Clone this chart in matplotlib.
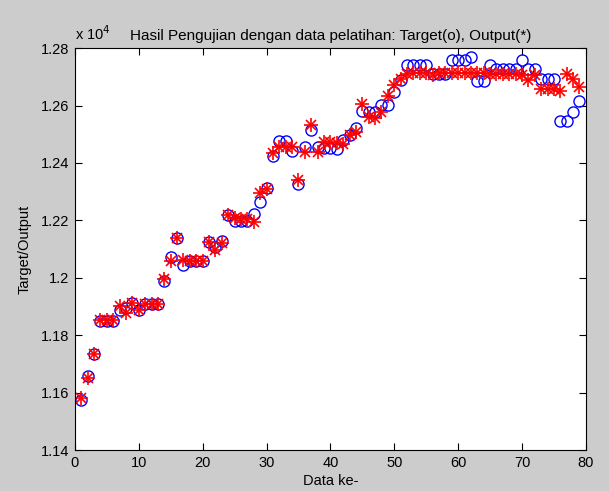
import matplotlib
matplotlib.use("Agg")
import matplotlib.pyplot as plt
from matplotlib.ticker import FuncFormatter, MultipleLocator

plt.rcParams['font.family'] = ['Liberation Sans', 'DejaVu Sans']

data_index = list(range(1, 80))
target = [
    1.1575, 1.1658, 1.1733, 1.1851, 1.1851, 1.1851, 1.1887, 1.1893, 1.1912, 1.1886,
    1.1907, 1.1907, 1.1907, 1.1988, 1.2074, 1.2138, 1.2043, 1.2059, 1.2059, 1.2059,
    1.2126, 1.2106, 1.2129, 1.2219, 1.2198, 1.2198, 1.2198, 1.2221, 1.2263, 1.2314,
    1.2424, 1.2476, 1.2476, 1.2441, 1.2325, 1.2456, 1.2514, 1.2456, 1.2453, 1.2453,
    1.2450, 1.2480, 1.2497, 1.2520, 1.2580, 1.2578, 1.2578, 1.2603, 1.2603, 1.2647,
    1.2688, 1.2742, 1.2742, 1.2742, 1.2742, 1.2711, 1.2711, 1.2711, 1.2757, 1.2757,
    1.2757, 1.2769, 1.2684, 1.2684, 1.2740, 1.2726, 1.2726, 1.2726, 1.2726, 1.2757,
    1.2726, 1.2726, 1.2693, 1.2693, 1.2693, 1.2545, 1.2545, 1.2578, 1.2615,
]
output = [
    1.1582, 1.1652, 1.1733, 1.1853, 1.1853, 1.1853, 1.1901, 1.1878, 1.1912, 1.1889,
    1.1907, 1.1907, 1.1907, 1.1996, 1.2057, 1.2137, 1.2061, 1.2059, 1.2059, 1.2059,
    1.2126, 1.2098, 1.2121, 1.2219, 1.2207, 1.2205, 1.2205, 1.2196, 1.2294, 1.2308,
    1.2435, 1.2456, 1.2457, 1.2456, 1.2341, 1.2439, 1.2532, 1.2437, 1.2474, 1.2474,
    1.2468, 1.2465, 1.2497, 1.2508, 1.2607, 1.2560, 1.2557, 1.2578, 1.2632, 1.2673,
    1.2693, 1.2711, 1.2712, 1.2712, 1.2712, 1.2707, 1.2712, 1.2712, 1.2712, 1.2712,
    1.2712, 1.2714, 1.2712, 1.2712, 1.2711, 1.2711, 1.2711, 1.2711, 1.2711, 1.2705,
    1.2690, 1.2705, 1.2659, 1.2659, 1.2657, 1.2652, 1.2710, 1.2691, 1.2665,
]
scale = 1e4
target_vals = [v * scale for v in target]
output_vals = [v * scale for v in output]

title = "Hasil Pengujian dengan data pelatihan: Target(o), Output(*)"
xlabel = "Data ke-"
ylabel = "Target/Output"


def fmt(v, p):
    s = f"{v / scale:.2f}"
    if s.endswith("0"):
        s = s.rstrip("0").rstrip(".")
    return s


fig = plt.figure(figsize=(6.09, 4.91), dpi=100, facecolor='#cccccc')
ax = fig.add_axes([0.123, 0.0835, 0.839, 0.8185])
ax.set_facecolor('white')

ax.plot(data_index, target_vals, linestyle='none', marker='o', markersize=8,
        markerfacecolor='none', markeredgecolor='#0000ff', markeredgewidth=1.0)
ax.plot(data_index, output_vals, linestyle='none', marker='+', markersize=10,
        markeredgecolor='#ff0000', markeredgewidth=1.2)
ax.plot(data_index, output_vals, linestyle='none', marker='x', markersize=7,
        markeredgecolor='#ff0000', markeredgewidth=1.2)

ax.set_xlim(0, 80)
ax.set_ylim(1.14 * scale, 1.28 * scale)
ax.xaxis.set_major_locator(MultipleLocator(10))
ax.yaxis.set_major_locator(MultipleLocator(0.02 * scale))
ax.yaxis.set_major_formatter(FuncFormatter(fmt))

ax.tick_params(direction='in', top=True, right=True, length=5, width=0.8,
               labelsize=10.5, colors='black', pad=4)
for s in ax.spines.values():
    s.set_linewidth(0.8)

ax.set_title(title, fontsize=11, pad=6)
ax.set_xlabel(xlabel, fontsize=10.5, labelpad=3)
ax.set_ylabel(ylabel, fontsize=10.5, labelpad=7)
ax.text(0.0, 1.012, r"x 10$^{4}$", transform=ax.transAxes, fontsize=10.5,
        ha='left', va='bottom')

fig.savefig("out.png", dpi=100, facecolor=fig.get_facecolor())
